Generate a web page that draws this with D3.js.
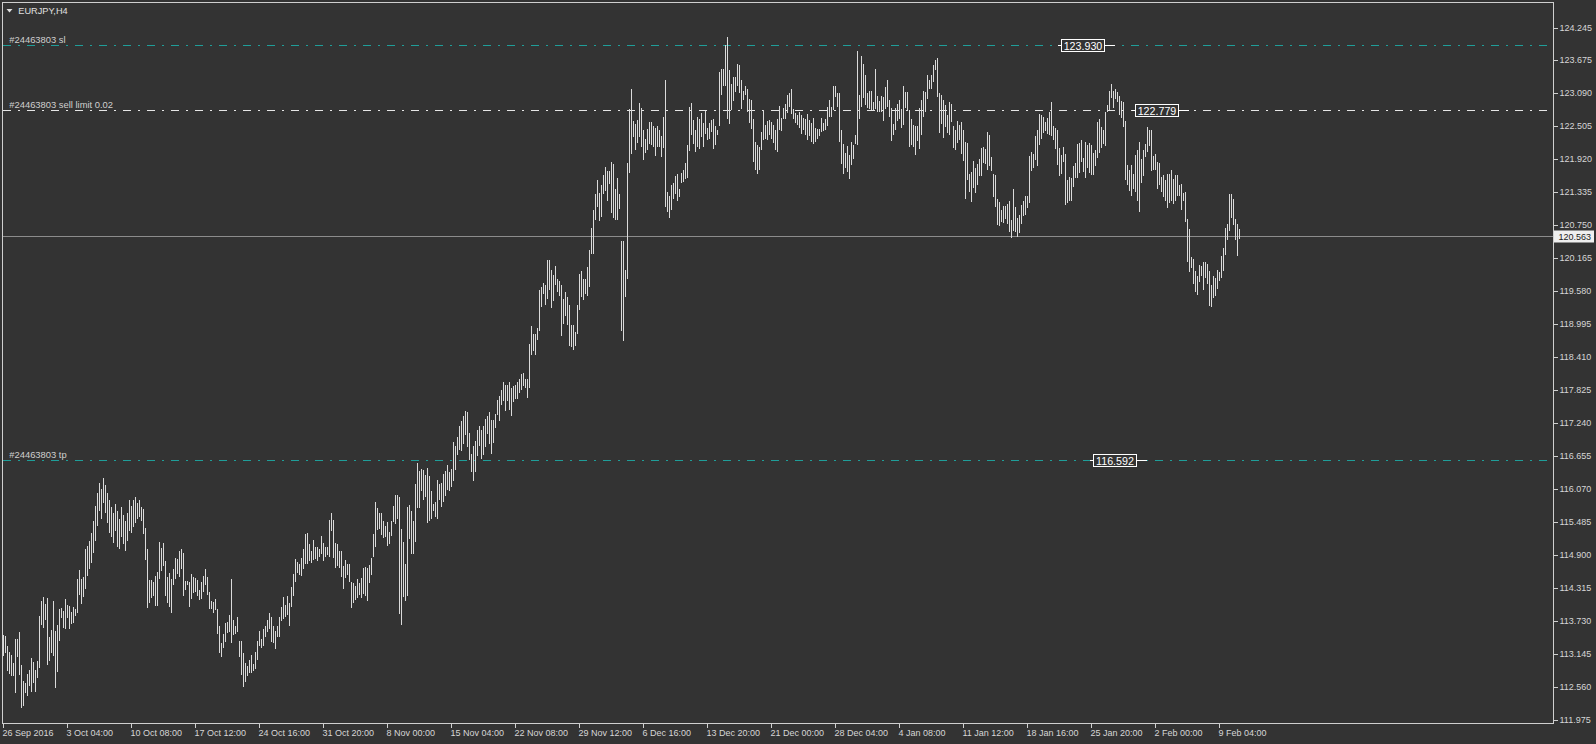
<!DOCTYPE html>
<html><head><meta charset="utf-8">
<script src="https://cdn.jsdelivr.net/npm/d3@7"></script>
<style>
html,body{margin:0;padding:0;background:#333333;overflow:hidden}
svg{display:block}
text{font-family:"Liberation Sans",Arial,sans-serif}
</style></head><body>
<svg id="c" width="1596" height="744"></svg>
<script>
const symbol = "EURJPY,H4";
const timeLabels = ["26 Sep 2016","3 Oct 04:00","10 Oct 08:00","17 Oct 12:00","24 Oct 16:00","31 Oct 20:00","8 Nov 00:00","15 Nov 04:00","22 Nov 08:00","29 Nov 12:00","6 Dec 16:00","13 Dec 20:00","21 Dec 00:00","28 Dec 04:00","4 Jan 08:00","11 Jan 12:00","18 Jan 16:00","25 Jan 20:00","2 Feb 00:00","9 Feb 04:00"];
const barsPerTimeLabel = 32;
const priceTicks = [124.245,123.675,123.090,122.505,121.920,121.335,120.750,120.165,119.580,118.995,118.410,117.825,117.240,116.655,116.070,115.485,114.900,114.315,113.730,113.145,112.560,111.975];
const bidPrice = 120.563;
const levelNames = ["#24463803 sl","#24463803 sell limit 0.02","#24463803 tp"];
const levelPrices = [123.930,122.779,116.592];
const levelTypes = ["stop","order","stop"];
const levelLabelBars = [529,566,545];

const high = [
113.49,113.47,113.29,113.19,113.14,112.99,113.42,113.42,113.54,112.96,
112.67,112.64,112.80,112.87,113.08,113.01,112.87,113.03,113.83,114.09,
114.16,114.04,114.15,113.45,113.58,114.09,113.56,113.67,113.95,113.97,
113.92,114.13,114.02,114.00,113.90,113.99,113.95,114.48,114.64,114.48,
114.52,115.01,115.07,115.16,115.30,115.51,115.78,116.01,116.18,116.08,
116.26,116.15,116.01,115.87,115.76,115.65,115.81,115.69,115.55,115.76,
115.62,115.51,115.65,115.87,115.78,115.87,115.94,115.83,115.87,115.75,
115.72,115.39,115.01,114.47,114.47,114.43,114.54,114.61,115.14,115.02,
115.12,114.80,114.52,114.58,114.48,114.65,114.85,114.83,114.98,115.01,
114.94,114.45,114.45,114.42,114.56,114.52,114.49,114.46,114.29,114.43,
114.54,114.65,114.52,114.25,114.09,114.07,114.12,113.94,113.65,113.34,
113.51,113.70,113.71,113.84,114.48,113.76,113.65,113.80,113.38,113.38,
113.17,112.99,112.94,113.05,113.13,112.97,113.18,113.38,113.56,113.41,
113.59,113.64,113.76,113.87,113.81,113.65,113.56,113.64,113.81,113.99,
114.16,114.02,114.18,114.06,114.34,114.56,114.84,114.78,114.74,114.85,
115.01,115.27,115.30,115.10,114.98,115.17,115.04,115.05,115.01,115.24,
115.12,115.04,115.05,115.52,115.65,115.52,115.11,115.10,114.97,114.98,
114.71,114.82,114.74,114.75,114.43,114.40,114.36,114.48,114.41,114.49,
114.68,114.69,114.67,114.73,114.85,115.27,115.85,115.74,115.64,115.64,
115.50,115.42,115.48,115.31,115.50,115.78,115.97,115.97,115.94,115.36,
115.14,114.74,115.76,115.79,115.69,115.50,116.17,116.54,116.40,116.43,
116.41,116.33,116.45,116.30,116.04,115.81,115.85,116.24,116.16,116.18,
116.34,116.40,116.49,116.38,116.42,116.90,116.84,117.00,117.19,117.27,
117.37,117.46,117.43,117.07,116.69,116.84,116.93,117.12,117.19,117.11,
117.19,117.31,117.37,117.44,117.30,117.30,117.40,117.65,117.72,117.83,
117.96,117.92,117.92,117.96,117.86,117.90,117.92,117.96,118.02,118.11,
118.12,118.03,118.03,118.64,118.96,118.81,118.82,118.93,119.60,119.66,
119.72,119.69,120.13,120.13,119.96,119.87,120.03,119.80,119.75,119.68,
119.44,119.56,119.47,119.34,118.97,118.97,118.85,119.34,119.88,119.94,
119.80,119.80,120.00,120.30,120.70,121.02,121.29,121.54,121.31,121.45,
121.63,121.77,121.70,121.70,121.86,121.83,121.39,121.58,121.29,120.47,
120.46,119.96,121.85,122.81,123.16,122.59,122.54,122.61,122.91,122.83,
122.43,122.27,122.45,122.57,122.57,122.50,122.47,122.51,122.43,122.32,
122.67,123.31,121.33,121.27,121.45,121.49,121.61,121.66,121.39,121.67,
121.73,121.85,122.16,122.84,122.91,122.61,122.44,122.67,122.63,122.73,
122.55,122.77,122.46,122.55,122.61,122.63,122.51,122.43,123.46,123.52,
123.52,123.93,124.08,123.50,123.25,123.37,123.37,123.61,123.58,123.31,
123.13,123.22,123.15,122.99,122.96,122.63,122.22,122.16,122.13,122.40,
122.78,122.53,122.60,122.61,122.57,122.53,122.44,122.63,122.85,122.65,
122.83,122.89,123.06,123.09,123.16,122.81,122.73,122.69,122.75,122.69,
122.65,122.63,122.72,122.61,122.55,122.65,122.47,122.45,122.45,122.65,
122.55,122.63,122.84,122.97,122.84,123.22,123.21,123.09,123.09,122.43,
122.19,122.03,122.15,121.99,122.22,122.17,122.35,123.83,123.06,123.74,
123.61,123.41,123.08,123.12,123.13,122.92,123.51,123.03,122.94,123.03,
123.02,123.19,123.31,122.96,122.82,122.54,122.82,122.90,122.96,122.81,
123.21,123.10,123.10,122.78,122.62,122.53,122.51,122.51,122.82,122.96,
123.12,123.10,123.41,123.31,123.40,123.58,123.67,123.71,123.09,123.05,
122.97,122.88,122.69,122.93,122.90,122.51,122.43,122.60,122.53,122.57,
122.43,122.22,122.21,121.66,121.69,121.89,121.76,121.83,121.92,122.11,
122.13,122.10,122.39,122.35,121.95,121.65,121.63,121.21,121.15,121.02,
121.08,121.08,121.13,121.17,120.83,121.38,121.06,120.87,120.92,121.10,
121.17,121.26,121.26,121.97,122.04,122.01,122.32,122.43,122.72,122.69,
122.66,122.57,122.64,122.76,122.92,122.51,122.47,122.44,122.11,121.99,
122.13,122.00,121.54,121.60,121.58,121.79,121.85,122.19,122.21,122.25,
121.93,122.22,122.17,122.21,122.16,122.03,122.07,122.57,122.63,122.48,
122.43,122.76,122.87,123.12,123.24,123.13,123.16,123.10,123.03,122.94,
122.93,122.60,121.82,121.72,121.82,121.66,121.99,122.07,122.22,121.92,
122.07,122.19,122.48,122.43,122.43,121.98,122.01,121.86,121.85,121.60,
121.63,121.54,121.66,121.66,121.73,121.57,121.63,121.64,121.45,121.48,
121.32,121.33,120.86,120.68,120.18,120.15,119.94,119.85,120.04,120.03,
120.09,120.10,120.06,119.94,119.69,119.85,119.81,119.96,119.91,120.20,
120.34,120.69,120.77,121.30,121.29,121.21,120.86,120.77,120.67
];
const low = [
113.12,113.17,112.85,112.80,112.76,112.76,112.46,113.10,112.78,112.20,
112.23,112.46,112.41,112.59,112.48,112.64,112.48,112.73,112.90,113.67,
113.61,113.76,112.96,113.03,113.17,113.12,112.55,112.83,113.38,113.79,
113.61,113.60,113.79,113.60,113.68,113.70,113.83,113.88,114.20,114.04,
114.16,114.30,114.54,114.66,114.77,114.94,115.16,115.42,115.69,115.55,
115.83,115.65,115.47,115.30,115.23,115.12,115.33,115.05,115.01,115.23,
115.10,114.98,115.16,115.33,115.30,115.40,115.47,115.55,115.58,115.51,
115.27,114.81,113.97,114.05,114.15,114.18,114.00,114.00,114.48,114.62,
114.71,114.17,114.06,113.99,113.87,114.37,114.48,114.57,114.52,114.65,
114.17,114.29,114.37,113.99,114.12,114.23,114.25,114.18,114.11,114.12,
114.24,114.37,114.19,113.94,113.94,113.88,113.93,113.50,113.16,113.09,
113.26,113.36,113.53,113.54,113.34,113.49,113.50,113.54,113.10,112.78,
112.57,112.66,112.76,112.81,112.82,112.85,112.88,113.05,113.29,113.25,
113.29,113.46,113.54,113.59,113.37,113.35,113.24,113.46,113.46,113.73,
113.77,113.81,113.84,113.65,113.99,114.17,114.43,114.59,114.55,114.54,
114.65,114.74,114.75,114.80,114.77,114.81,114.83,114.80,114.87,114.92,
114.80,114.87,114.91,114.87,115.33,114.85,114.67,114.71,114.67,114.52,
114.31,114.50,114.55,114.42,113.97,114.06,114.10,114.14,114.20,114.15,
114.21,114.18,114.09,114.40,114.55,114.87,115.05,115.34,115.36,115.26,
115.20,115.23,115.07,115.09,115.24,115.48,115.46,115.54,113.86,113.67,
114.16,114.09,114.18,115.19,114.93,114.93,115.13,115.74,115.74,116.04,
115.88,115.94,115.47,115.51,115.55,115.68,115.58,115.55,115.87,115.76,
115.84,115.95,116.05,116.03,116.10,116.21,116.41,116.68,116.76,116.75,
116.87,117.03,116.81,116.59,116.38,116.21,116.37,116.66,116.84,116.60,
116.68,116.81,117.05,116.87,116.70,116.88,117.16,117.39,117.27,117.57,
117.64,117.45,117.64,117.48,117.36,117.61,117.67,117.67,117.77,117.83,
117.90,117.86,117.69,117.87,118.45,118.52,118.45,118.71,118.87,119.29,
119.52,119.34,119.44,119.60,119.28,119.40,119.68,119.56,119.50,118.79,
119.00,119.13,118.97,118.61,118.58,118.54,118.61,118.82,119.25,119.48,
119.42,119.52,119.50,119.65,120.23,120.24,120.84,121.07,120.82,120.90,
121.29,121.36,121.18,121.47,120.96,120.88,120.84,120.83,121.04,118.88,
118.69,119.47,119.80,121.67,122.01,122.31,122.08,122.20,122.30,122.14,
121.91,122.02,122.08,122.18,122.16,122.13,121.98,122.14,122.14,121.95,
122.12,121.07,120.98,120.88,121.01,121.21,121.29,121.17,121.25,121.49,
121.51,121.57,121.59,122.06,122.35,122.19,122.04,122.14,122.10,122.31,
122.13,122.37,122.26,122.28,122.39,122.10,122.16,122.34,122.51,123.05,
123.22,123.21,122.63,122.54,122.78,122.94,123.10,123.22,123.08,122.81,
122.96,123.05,122.75,122.55,122.45,121.86,121.72,121.65,121.72,122.08,
122.26,122.28,122.25,122.35,122.28,122.20,122.07,122.04,122.43,122.41,
122.63,122.63,122.73,122.84,122.72,122.63,122.55,122.53,122.47,122.37,
122.44,122.35,122.26,122.32,122.22,122.18,122.22,122.28,122.32,122.39,
122.41,122.43,122.51,122.66,122.66,122.78,123.02,122.84,122.22,121.83,
121.66,121.76,121.69,121.57,121.82,121.92,122.19,122.17,122.62,122.84,
123.00,122.88,122.82,122.80,122.78,122.78,122.80,122.76,122.75,122.75,
122.60,122.80,122.84,122.66,122.23,122.35,122.43,122.60,122.62,122.47,
122.53,122.82,122.78,122.13,122.16,122.13,121.99,122.23,122.09,122.35,
122.66,122.75,122.99,123.15,123.16,123.28,123.49,123.02,122.38,122.54,
122.29,122.48,122.38,122.34,122.57,122.11,122.07,122.21,122.25,122.01,
121.89,121.21,121.54,121.33,121.15,121.40,121.32,121.45,121.61,121.61,
121.85,121.83,121.73,121.79,121.70,121.24,121.07,120.75,120.73,120.81,
120.79,120.85,120.77,120.63,120.52,120.65,120.63,120.53,120.61,120.77,
120.91,120.92,121.05,121.14,121.70,121.76,121.91,121.80,122.16,122.27,
122.38,122.41,122.37,122.35,122.32,122.26,122.09,121.82,121.61,121.66,
121.86,121.10,121.14,121.17,121.17,121.42,121.58,121.58,121.67,121.86,
121.69,121.58,121.76,121.67,121.63,121.63,121.79,121.93,122.03,122.11,
122.19,122.15,122.75,122.78,123.00,122.82,122.99,122.92,122.70,122.64,
122.48,121.54,121.45,121.36,121.27,121.38,121.34,121.17,120.98,121.50,
121.61,121.95,122.05,122.15,121.70,121.73,121.72,121.38,121.45,121.34,
121.24,121.17,121.05,121.14,121.17,121.13,121.18,121.27,121.27,121.02,
121.17,120.80,120.09,119.91,119.98,119.71,119.56,119.51,119.74,119.85,
119.59,119.81,119.71,119.32,119.29,119.45,119.49,119.61,119.75,119.81,
119.93,120.22,120.49,120.65,120.87,120.75,120.48,120.20,120.50
];

const W = 1596, H = 744;
const plotL = 2, plotT = 2, plotR = 1553, plotB = 723;
const n = high.length;
const bg = "#333333", fg = "#d6d6d6", barColor = "#dadada", teal = "#1f9e99";

const svg = d3.select("#c");
svg.append("rect").attr("width", W).attr("height", H).attr("fill", bg);

const x = d3.scaleLinear().domain([0, n - 1]).range([3.5, 3.5 + 2 * (n - 1)]);
const y = d3.scaleLinear().domain([111.928, 124.700]).range([plotB, plotT]);

// bid line
svg.append("line")
  .attr("x1", plotL + 1).attr("x2", plotR)
  .attr("y1", Math.round(y(bidPrice)) + 0.5).attr("y2", Math.round(y(bidPrice)) + 0.5)
  .attr("stroke", "#8c8c8c").attr("stroke-width", 1).attr("shape-rendering", "crispEdges");

// level lines
const lv = levelPrices.map((p, i) => ({p, name: levelNames[i], type: levelTypes[i], bar: levelLabelBars[i]}));
lv.forEach(d => {
  const yy = Math.round(y(d.p)) + 0.5;
  svg.append("line").attr("x1", 3).attr("x2", plotR).attr("y1", yy).attr("y2", yy)
    .attr("stroke", d.type === "stop" ? teal : "#e6e6e6").attr("stroke-width", 1)
    .attr("stroke-dasharray", "8,7,2,7").attr("shape-rendering", "crispEdges");
  svg.append("text").attr("x", 9.3).attr("y", yy - 3)
    .attr("font-size", "9.4px").attr("fill", "#cfcfcf").text(d.name);
});

// bars
svg.append("g").selectAll("line").data(d3.range(n)).join("line")
  .attr("x1", i => x(i)).attr("x2", i => x(i))
  .attr("y1", i => Math.round(y(high[i])))
  .attr("y2", i => Math.max(Math.round(y(low[i])), Math.round(y(high[i])) + 1))
  .attr("stroke", barColor).attr("stroke-width", 1).attr("shape-rendering", "crispEdges");

// price label boxes
lv.forEach(d => {
  const yy = Math.round(y(d.p)) + 0.5;
  const bx = Math.round(x(d.bar)) - 0.5;
  svg.append("line").attr("x1", bx - 4).attr("x2", bx + 53).attr("y1", yy).attr("y2", yy)
    .attr("stroke", "#ffffff").attr("stroke-width", 1).attr("shape-rendering", "crispEdges");
  svg.append("rect").attr("x", bx).attr("y", yy - 6.5).attr("width", 43).attr("height", 12.5)
    .attr("fill", bg).attr("stroke", "#ffffff").attr("stroke-width", 1).attr("shape-rendering", "crispEdges");
  svg.append("text").attr("x", bx + 21.5).attr("y", yy + 4).attr("text-anchor", "middle")
    .attr("font-size", "10.7px").attr("fill", "#ffffff").text(d3.format(".3f")(d.p));
});

// frame
svg.append("rect").attr("x", plotL + 0.5).attr("y", plotT + 0.5)
  .attr("width", plotR - plotL).attr("height", plotB - plotT)
  .attr("fill", "none").attr("stroke", "#cfcfcf").attr("stroke-width", 1).attr("shape-rendering", "crispEdges");

// y axis
const yAxis = d3.axisRight(y).tickValues(priceTicks).tickSize(4).tickPadding(2).offset(0)
  .tickFormat(d3.format(".3f"));
const gy = svg.append("g").attr("transform", `translate(${plotR + 0.5},0)`).call(yAxis);
gy.select(".domain").remove();
gy.selectAll(".tick").attr("transform", d => `translate(0,${Math.round(y(d)) + 0.5})`);
gy.selectAll(".tick line").attr("stroke", "#cfcfcf").attr("shape-rendering", "crispEdges");
gy.selectAll(".tick text").attr("fill", fg).attr("font-size", "9px")
  .attr("font-family", "Liberation Sans, Arial, sans-serif");

// bid label on axis
const by = Math.round(y(bidPrice)) + 0.5;
svg.append("rect").attr("x", plotR + 1).attr("y", by - 6).attr("width", 40).attr("height", 12)
  .attr("fill", "#efefef");
svg.append("text").attr("x", plotR + 5.5).attr("y", by + 3.3).attr("font-size", "9px")
  .attr("fill", "#1a1a1a").text(d3.format(".3f")(bidPrice));

// x axis
const tickIdx = timeLabels.map((t, i) => i * barsPerTimeLabel);
const xAxis = d3.axisBottom(x).tickValues(tickIdx).tickSize(4).offset(0)
  .tickFormat((d, i) => timeLabels[i]);
const gx = svg.append("g").attr("transform", `translate(0,${plotB + 0.5})`).call(xAxis);
gx.select(".domain").remove();
gx.selectAll(".tick line").attr("stroke", "#cfcfcf").attr("shape-rendering", "crispEdges");
gx.selectAll(".tick text").attr("fill", fg).attr("font-size", "9px")
  .attr("font-family", "Liberation Sans, Arial, sans-serif")
  .attr("text-anchor", "start").attr("x", -1).attr("y", 6).attr("dy", "0.71em");

// title
svg.append("path").attr("d", "M6.5,9 L12.5,9 L9.5,12.5 Z").attr("fill", "#e0e0e0");
svg.append("text").attr("x", 18.3).attr("y", 14.3).attr("font-size", "9.2px")
  .attr("fill", "#e0e0e0").text(symbol);
</script>
</body></html>
